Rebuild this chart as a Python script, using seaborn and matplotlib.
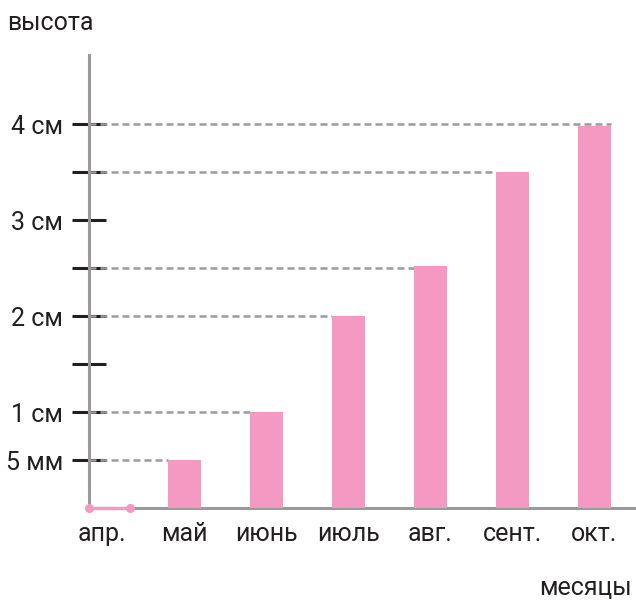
import matplotlib
matplotlib.use("Agg")
import matplotlib.pyplot as plt
import seaborn as sns
import pandas as pd

# ---- data ----
months = ["апр.", "май", "июнь", "июль", "авг.", "сент.", "окт."]
heights_cm = [0.0, 0.5, 1.0, 2.0, 2.52, 3.5, 3.98]
ytick_values = [0.5, 1.0, 1.5, 2.0, 2.5, 3.0, 3.5, 4.0]
ytick_labels = ["5 мм", "1 см", "", "2 см", "", "3 см", "", "4 см"]
y_title = "высота"
x_title = "месяцы"

sns.set_theme(style="white")
plt.rcParams['font.family'] = ['Roboto', 'DejaVu Sans']

PINK = "#F49AC2"
GREY = "#9A9A9A"
INK = "#231F20"
FS = 18

fig = plt.figure(figsize=(6.36, 6.0), dpi=100)
ax = fig.add_axes([89 / 636, 92 / 600, 547 / 636, 453 / 600])

df = pd.DataFrame({"month": months, "height": heights_cm})
sns.barplot(data=df, x="month", y="height", order=months, color=PINK,
            saturation=1, width=0.4, linewidth=0, ax=ax, zorder=3)

XL = (-0.16, 6.51)
ax.set_xlim(*XL)
ax.set_ylim(0, 4.72)

# dashed guide lines from the axis to each bar at its level
for i, h in enumerate(heights_cm):
    if h <= 0:
        continue
    level = round(h * 2) / 2
    x_end = i - 0.2 if h >= level else i + 0.2
    ax.plot([XL[0], x_end], [level, level], color=GREY, lw=1.8,
            dashes=(2.8, 1.6), zorder=1.5)

# zero-height April bar drawn as a line with end dots
zero_idx = [i for i, h in enumerate(heights_cm) if h == 0]
for i in zero_idx:
    ax.plot([XL[0], i + 0.34], [0, 0], color=PINK, lw=2.4, marker='o',
            ms=5.5, clip_on=False, zorder=4, solid_capstyle='butt')

for s in ["top", "right"]:
    ax.spines[s].set_visible(False)
for s in ["left", "bottom"]:
    ax.spines[s].set_color(GREY)
    ax.spines[s].set_linewidth(2.2)

ax.set_yticks(ytick_values, ytick_labels)
ax.tick_params(axis='y', left=True, direction='inout', length=24, width=2.2,
               color=INK, pad=6.5, labelsize=FS, labelcolor=INK)
ax.tick_params(axis='x', bottom=False, length=0, pad=10, labelsize=FS,
               labelcolor=INK)
ax.set_xlabel("")
ax.set_ylabel("")

fig.text(7 / 636, 1 - 30 / 600, y_title, ha='left', va='baseline',
         fontsize=FS, color=INK)
fig.text(632 / 636, 1 - 595 / 600, x_title, ha='right', va='baseline',
         fontsize=FS, color=INK)

fig.savefig("out.png", dpi=100)
